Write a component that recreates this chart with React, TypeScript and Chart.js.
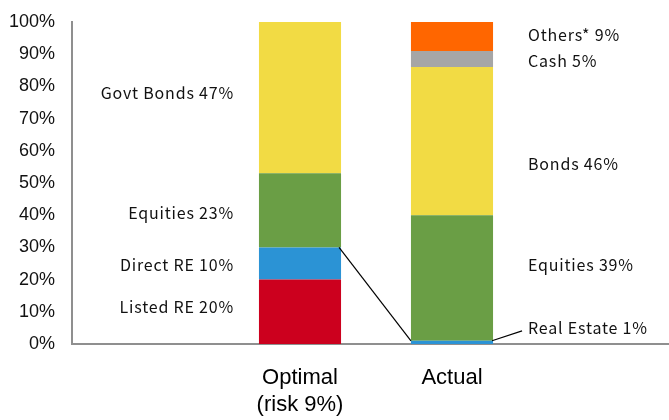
import React, { useEffect, useRef } from "react";
import { Chart, registerables } from "chart.js";

Chart.register(...registerables);

const categories: (string | string[])[] = ["", ["Optimal", "(risk 9%)"], "Actual", ""];
const yTicks = [0, 10, 20, 30, 40, 50, 60, 70, 80, 90, 100];

const listedRE = [null, 20, 0, null];
const realEstate = [null, 10, 1, null];
const equities = [null, 23, 39, null];
const bonds = [null, 47, 46, null];
const cash = [null, 0, 5, null];
const others = [null, 0, 9, null];

const optimalLabels = ["Listed RE 20%", "Direct RE 10%", "Equities 23%", "Govt Bonds 47%"];
const optimalLabelValues = [11.5, 24.5, 40.7, 78];
const actualLabels = ["Real Estate 1%", "Equities 39%", "Bonds 46%", "Cash 5%", "Others* 9%"];
const actualLabelValues = [5, 24.5, 56, 88, 96];

const COLORS = {
  red: "#CC001E",
  blue: "#2B93D5",
  green: "#6A9E45",
  yellow: "#F2DB44",
  gray: "#A6A6A6",
  orange: "#FF6600",
};

const LABEL_FONT = '16px "Noto Sans CJK JP"';

const annotationPlugin = {
  id: "annotations",
  afterDatasetsDraw(chart: any) {
    const ctx = chart.ctx;
    const y = chart.scales.y;
    const reMeta = chart.getDatasetMeta(1);
    const optBar = reMeta.data[1] as any;
    const actBar = reMeta.data[2] as any;
    if (!optBar || !actBar) return;
    const optLeft = optBar.x - optBar.width / 2;
    const optRight = optBar.x + optBar.width / 2;
    const actLeft = actBar.x - actBar.width / 2;
    const actRight = actBar.x + actBar.width / 2;

    ctx.save();
    ctx.strokeStyle = "#000";
    ctx.lineWidth = 1.2;
    ctx.beginPath();
    ctx.moveTo(optRight - 2, optBar.y);
    ctx.lineTo(actLeft, actBar.y);
    ctx.stroke();

    ctx.fillStyle = "#111";
    ctx.font = LABEL_FONT;
    (ctx as any).letterSpacing = "0.8px";
    ctx.textBaseline = "middle";
    ctx.textAlign = "right";
    optimalLabels.forEach((t, i) => {
      ctx.fillText(t, optLeft - 25, y.getPixelForValue(optimalLabelValues[i]));
    });
    ctx.textAlign = "left";
    const ax = actRight + 35;
    actualLabels.forEach((t, i) => {
      ctx.fillText(t, ax, y.getPixelForValue(actualLabelValues[i]));
    });

    const ly = y.getPixelForValue(actualLabelValues[0]);
    ctx.beginPath();
    ctx.moveTo(actRight - 1, actBar.y);
    ctx.lineTo(ax - 6, ly + 3);
    ctx.stroke();
    ctx.restore();
  },
};

export default function App() {
  const ref = useRef<HTMLCanvasElement | null>(null);

  useEffect(() => {
    document.body.style.margin = "0";
    if (!ref.current) return;
    const chart = new Chart(ref.current, {
      type: "bar",
      data: {
        labels: categories as any,
        datasets: [
          { label: "Listed RE", data: listedRE, backgroundColor: COLORS.red },
          { label: "Real Estate", data: realEstate, backgroundColor: COLORS.blue },
          { label: "Equities", data: equities, backgroundColor: COLORS.green },
          { label: "Bonds", data: bonds, backgroundColor: COLORS.yellow },
          { label: "Cash", data: cash, backgroundColor: COLORS.gray },
          { label: "Others", data: others, backgroundColor: COLORS.orange },
        ] as any,
      },
      options: {
        animation: false,
        responsive: true,
        maintainAspectRatio: false,
        layout: { padding: { top: 22, left: 0, right: 0, bottom: 0 } },
        datasets: { bar: { barPercentage: 0.54, categoryPercentage: 1, borderWidth: 0 } },
        plugins: { legend: { display: false }, tooltip: { enabled: false } },
        scales: {
          x: {
            stacked: true,
            offset: true,
            grid: { display: false, drawTicks: false },
            border: { display: true, color: "#8f8f8f", width: 2 },
            ticks: {
              color: "#000",
              padding: 21,
              font: { family: '"Liberation Sans", Arial, sans-serif', size: 22, lineHeight: 1.2 },
              maxRotation: 0,
              autoSkip: false,
            },
            afterFit: (s: any) => {
              s.height = 76;
              s.paddingLeft = 0;
              s.paddingRight = 0;
            },
          },
          y: {
            stacked: true,
            min: 0,
            max: 100,
            grid: { display: false, drawTicks: false },
            border: { display: true, color: "#8f8f8f", width: 2 },
            afterBuildTicks: (s: any) => {
              s.ticks = yTicks.map((v) => ({ value: v }));
            },
            ticks: {
              color: "#111",
              padding: 17,
              font: { family: '"Liberation Sans", Arial, sans-serif', size: 18 },
              callback: (v: any) => v + "%",
            },
            afterFit: (s: any) => {
              s.width = 72;
              s.paddingTop = 0;
              s.paddingBottom = 0;
            },
          },
        },
      },
      plugins: [annotationPlugin],
    });
    return () => chart.destroy();
  }, []);

  return (
    <div style={{ width: 669, height: 420, overflow: "hidden", position: "relative" }}>
      <div style={{ width: 680, height: 420, position: "relative" }}>
        <canvas ref={ref} />
      </div>
    </div>
  );
}
